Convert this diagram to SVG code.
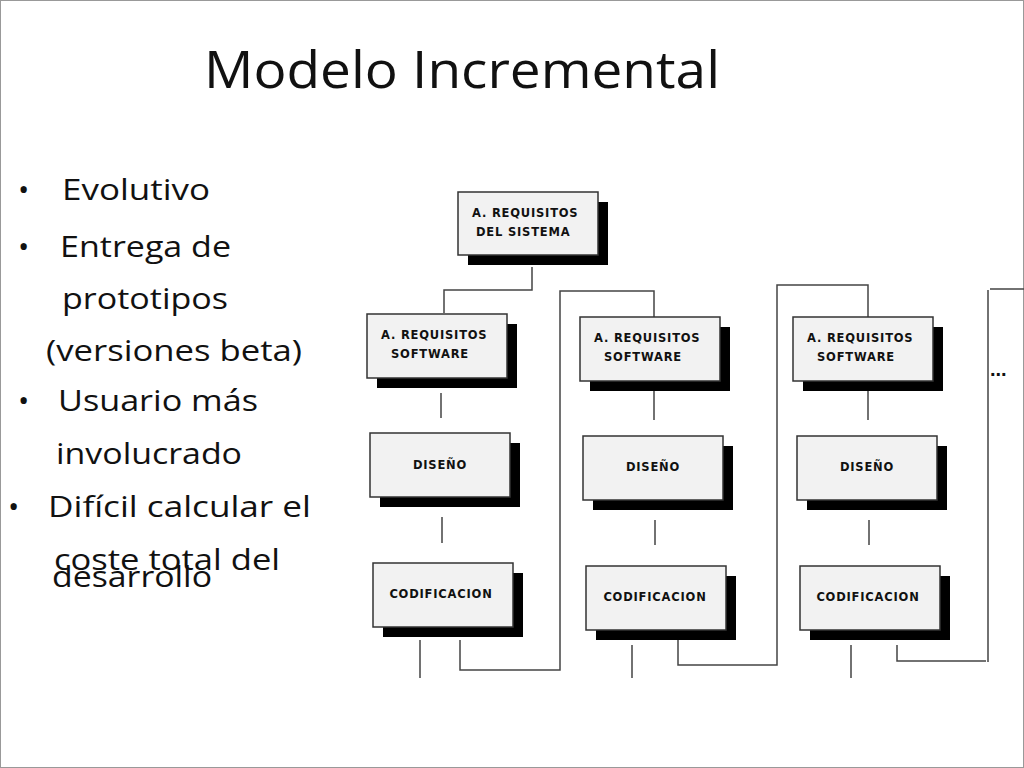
<svg xmlns="http://www.w3.org/2000/svg" width="1024" height="768" viewBox="0 0 1024 768">
<style>
.t{font-family:"Open Sans","Liberation Sans",sans-serif;font-size:30px;fill:#111}
.b{fill:#f2f2f2;stroke:#333;stroke-width:1.5}
.s{fill:#000}
.l{font-family:"DejaVu Sans","Liberation Sans",sans-serif;font-size:11.5px;font-weight:bold;fill:#111;letter-spacing:0.8px}
.c{fill:none;stroke:#444;stroke-width:1.5}
</style>
<rect x="0" y="0" width="1024" height="768" fill="#fff"/>
<rect x="0.5" y="0.5" width="1023" height="767" fill="none" stroke="#999"/>
<text x="462" y="88" text-anchor="middle" style="font-family:'Open Sans','Liberation Sans',sans-serif;font-size:52px;fill:#111" textLength="516" lengthAdjust="spacingAndGlyphs">Modelo Incremental</text>
<g id="bullets">
<text class="t" x="18" y="200">•</text><text class="t" x="62" y="200" textLength="148" lengthAdjust="spacingAndGlyphs">Evolutivo</text>
<text class="t" x="18" y="257">•</text><text class="t" x="60" y="257" textLength="171" lengthAdjust="spacingAndGlyphs">Entrega de</text>
<text class="t" x="62" y="309" textLength="166" lengthAdjust="spacingAndGlyphs">prototipos</text>
<text class="t" x="46" y="361" textLength="256" lengthAdjust="spacingAndGlyphs">(versiones beta)</text>
<text class="t" x="18" y="411">•</text><text class="t" x="58" y="411" textLength="200" lengthAdjust="spacingAndGlyphs">Usuario más</text>
<text class="t" x="56" y="464" textLength="186" lengthAdjust="spacingAndGlyphs">involucrado</text>
<text class="t" x="8" y="517">•</text><text class="t" x="48" y="517" textLength="263" lengthAdjust="spacingAndGlyphs">Difícil calcular el</text>
<text class="t" x="54" y="570" textLength="226" lengthAdjust="spacingAndGlyphs">coste total del</text>
<text class="t" x="52" y="587" textLength="160" lengthAdjust="spacingAndGlyphs">desarrollo</text>
</g>
<g id="connectors">
<path class="c" d="M532 267V290H444V313"/>
<path class="c" d="M441 393V418M442 517V543M420 640V678M460 640V670H560V291H654V317"/>
<path class="c" d="M654 390V420M655 520V545M632 645V678M678 640V665H777V285H868V317"/>
<path class="c" d="M868 390V420M869 520V545M851 645V678M897 645V661H986"/>
<path class="c" d="M988 290V662M990 289H1024"/>
</g>
<text x="990" y="376" style="font-family:'Liberation Sans',sans-serif;font-size:20px;font-weight:bold;fill:#111">...</text>
<g id="sys"><rect class="s" x="468" y="202" width="140" height="63"/><rect class="b" x="458" y="192" width="140" height="63"/><text class="l" x="472" y="217">A. REQUISITOS</text><text class="l" x="476" y="236">DEL SISTEMA</text></g>
<g id="req1"><rect class="s" x="377" y="324" width="140" height="64"/><rect class="b" x="367" y="314" width="140" height="64"/><text class="l" x="381" y="339">A. REQUISITOS</text><text class="l" x="391" y="358">SOFTWARE</text></g>
<g id="dis1"><rect class="s" x="380" y="443" width="140" height="64"/><rect class="b" x="370" y="433" width="140" height="64"/><text class="l" x="440" y="469" text-anchor="middle">DISEÑO</text></g>
<g id="cod1"><rect class="s" x="383" y="573" width="140" height="64"/><rect class="b" x="373" y="563" width="140" height="64"/><text class="l" x="441" y="598" text-anchor="middle">CODIFICACION</text></g>
<g id="req2"><rect class="s" x="590" y="327" width="140" height="64"/><rect class="b" x="580" y="317" width="140" height="64"/><text class="l" x="594" y="342">A. REQUISITOS</text><text class="l" x="604" y="361">SOFTWARE</text></g>
<g id="dis2"><rect class="s" x="593" y="446" width="140" height="64"/><rect class="b" x="583" y="436" width="140" height="64"/><text class="l" x="653" y="471" text-anchor="middle">DISEÑO</text></g>
<g id="cod2"><rect class="s" x="596" y="576" width="140" height="64"/><rect class="b" x="586" y="566" width="140" height="64"/><text class="l" x="655" y="601" text-anchor="middle">CODIFICACION</text></g>
<g id="req3"><rect class="s" x="803" y="327" width="140" height="64"/><rect class="b" x="793" y="317" width="140" height="64"/><text class="l" x="807" y="342">A. REQUISITOS</text><text class="l" x="817" y="361">SOFTWARE</text></g>
<g id="dis3"><rect class="s" x="807" y="446" width="140" height="64"/><rect class="b" x="797" y="436" width="140" height="64"/><text class="l" x="867" y="471" text-anchor="middle">DISEÑO</text></g>
<g id="cod3"><rect class="s" x="810" y="576" width="140" height="64"/><rect class="b" x="800" y="566" width="140" height="64"/><text class="l" x="868" y="601" text-anchor="middle">CODIFICACION</text></g>
</svg>
